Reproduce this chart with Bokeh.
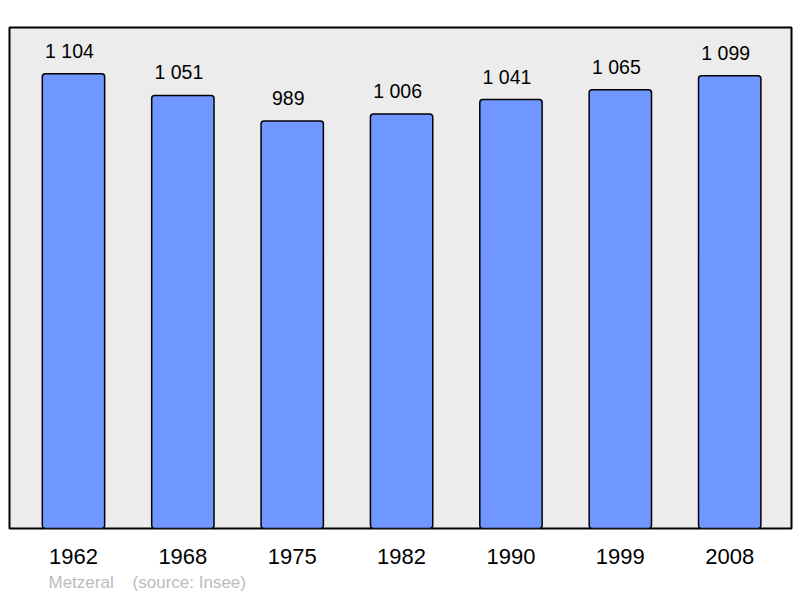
from bokeh.plotting import figure
from bokeh.models import ColumnDataSource, FixedTicker, Range1d, Title
from bokeh.core.properties import value
from bokeh.embed import file_html
from bokeh.resources import INLINE

years = ["1962", "1968", "1975", "1982", "1990", "1999", "2008"]
population = [1104, 1051, 989, 1006, 1041, 1065, 1099]
value_labels = ["1 104", "1 051", "989", "1 006", "1 041", "1 065", "1 099"]
place = "Metzeral"
source_note = "(source: Insee)"

xs = list(range(len(years)))
src = ColumnDataSource(dict(x=xs, pop=population, lab=value_labels))

FONT = "Liberation Sans"

p = figure(width=800, height=598, output_backend="svg", toolbar_location=None,
           x_range=Range1d(-0.585, 6.565), y_range=Range1d(0, 1216),
           min_border_left=9, min_border_right=9, min_border_top=27, min_border_bottom=70)

p.background_fill_color = "#ececec"
p.border_fill_color = "white"
p.outline_line_color = "black"
p.outline_line_width = 2
p.grid.visible = False
p.yaxis.visible = False

p.vbar(x="x", top="pop", bottom=0, width=0.57, source=src,
       fill_color="#7096ff", line_color="black", line_width=1.5, border_radius=3)

p.text(x="x", y="pop", text="lab", source=src, text_align="center",
       text_baseline="alphabetic", y_offset=-23, x_offset=-4, text_font=value(FONT),
       text_font_size="19.5px", text_color="black")

xa = p.xaxis[0]
xa.ticker = FixedTicker(ticks=xs)
xa.major_label_overrides = {i: y for i, y in enumerate(years)}
xa.axis_line_color = None
xa.major_tick_line_color = None
xa.minor_tick_line_color = None
xa.major_label_text_font = FONT
xa.major_label_text_font_size = "22px"
xa.major_label_text_color = "black"
xa.major_label_standoff = 14

footer = place + "\u00a0\u00a0\u00a0\u00a0" + source_note
p.add_layout(Title(text=footer, align="left", offset=39, text_font=FONT,
                   text_font_size="17px", text_font_style="normal",
                   text_color="#bbbbbb", standoff=8), "below")

open("out.html", "w").write(file_html(p, INLINE))
